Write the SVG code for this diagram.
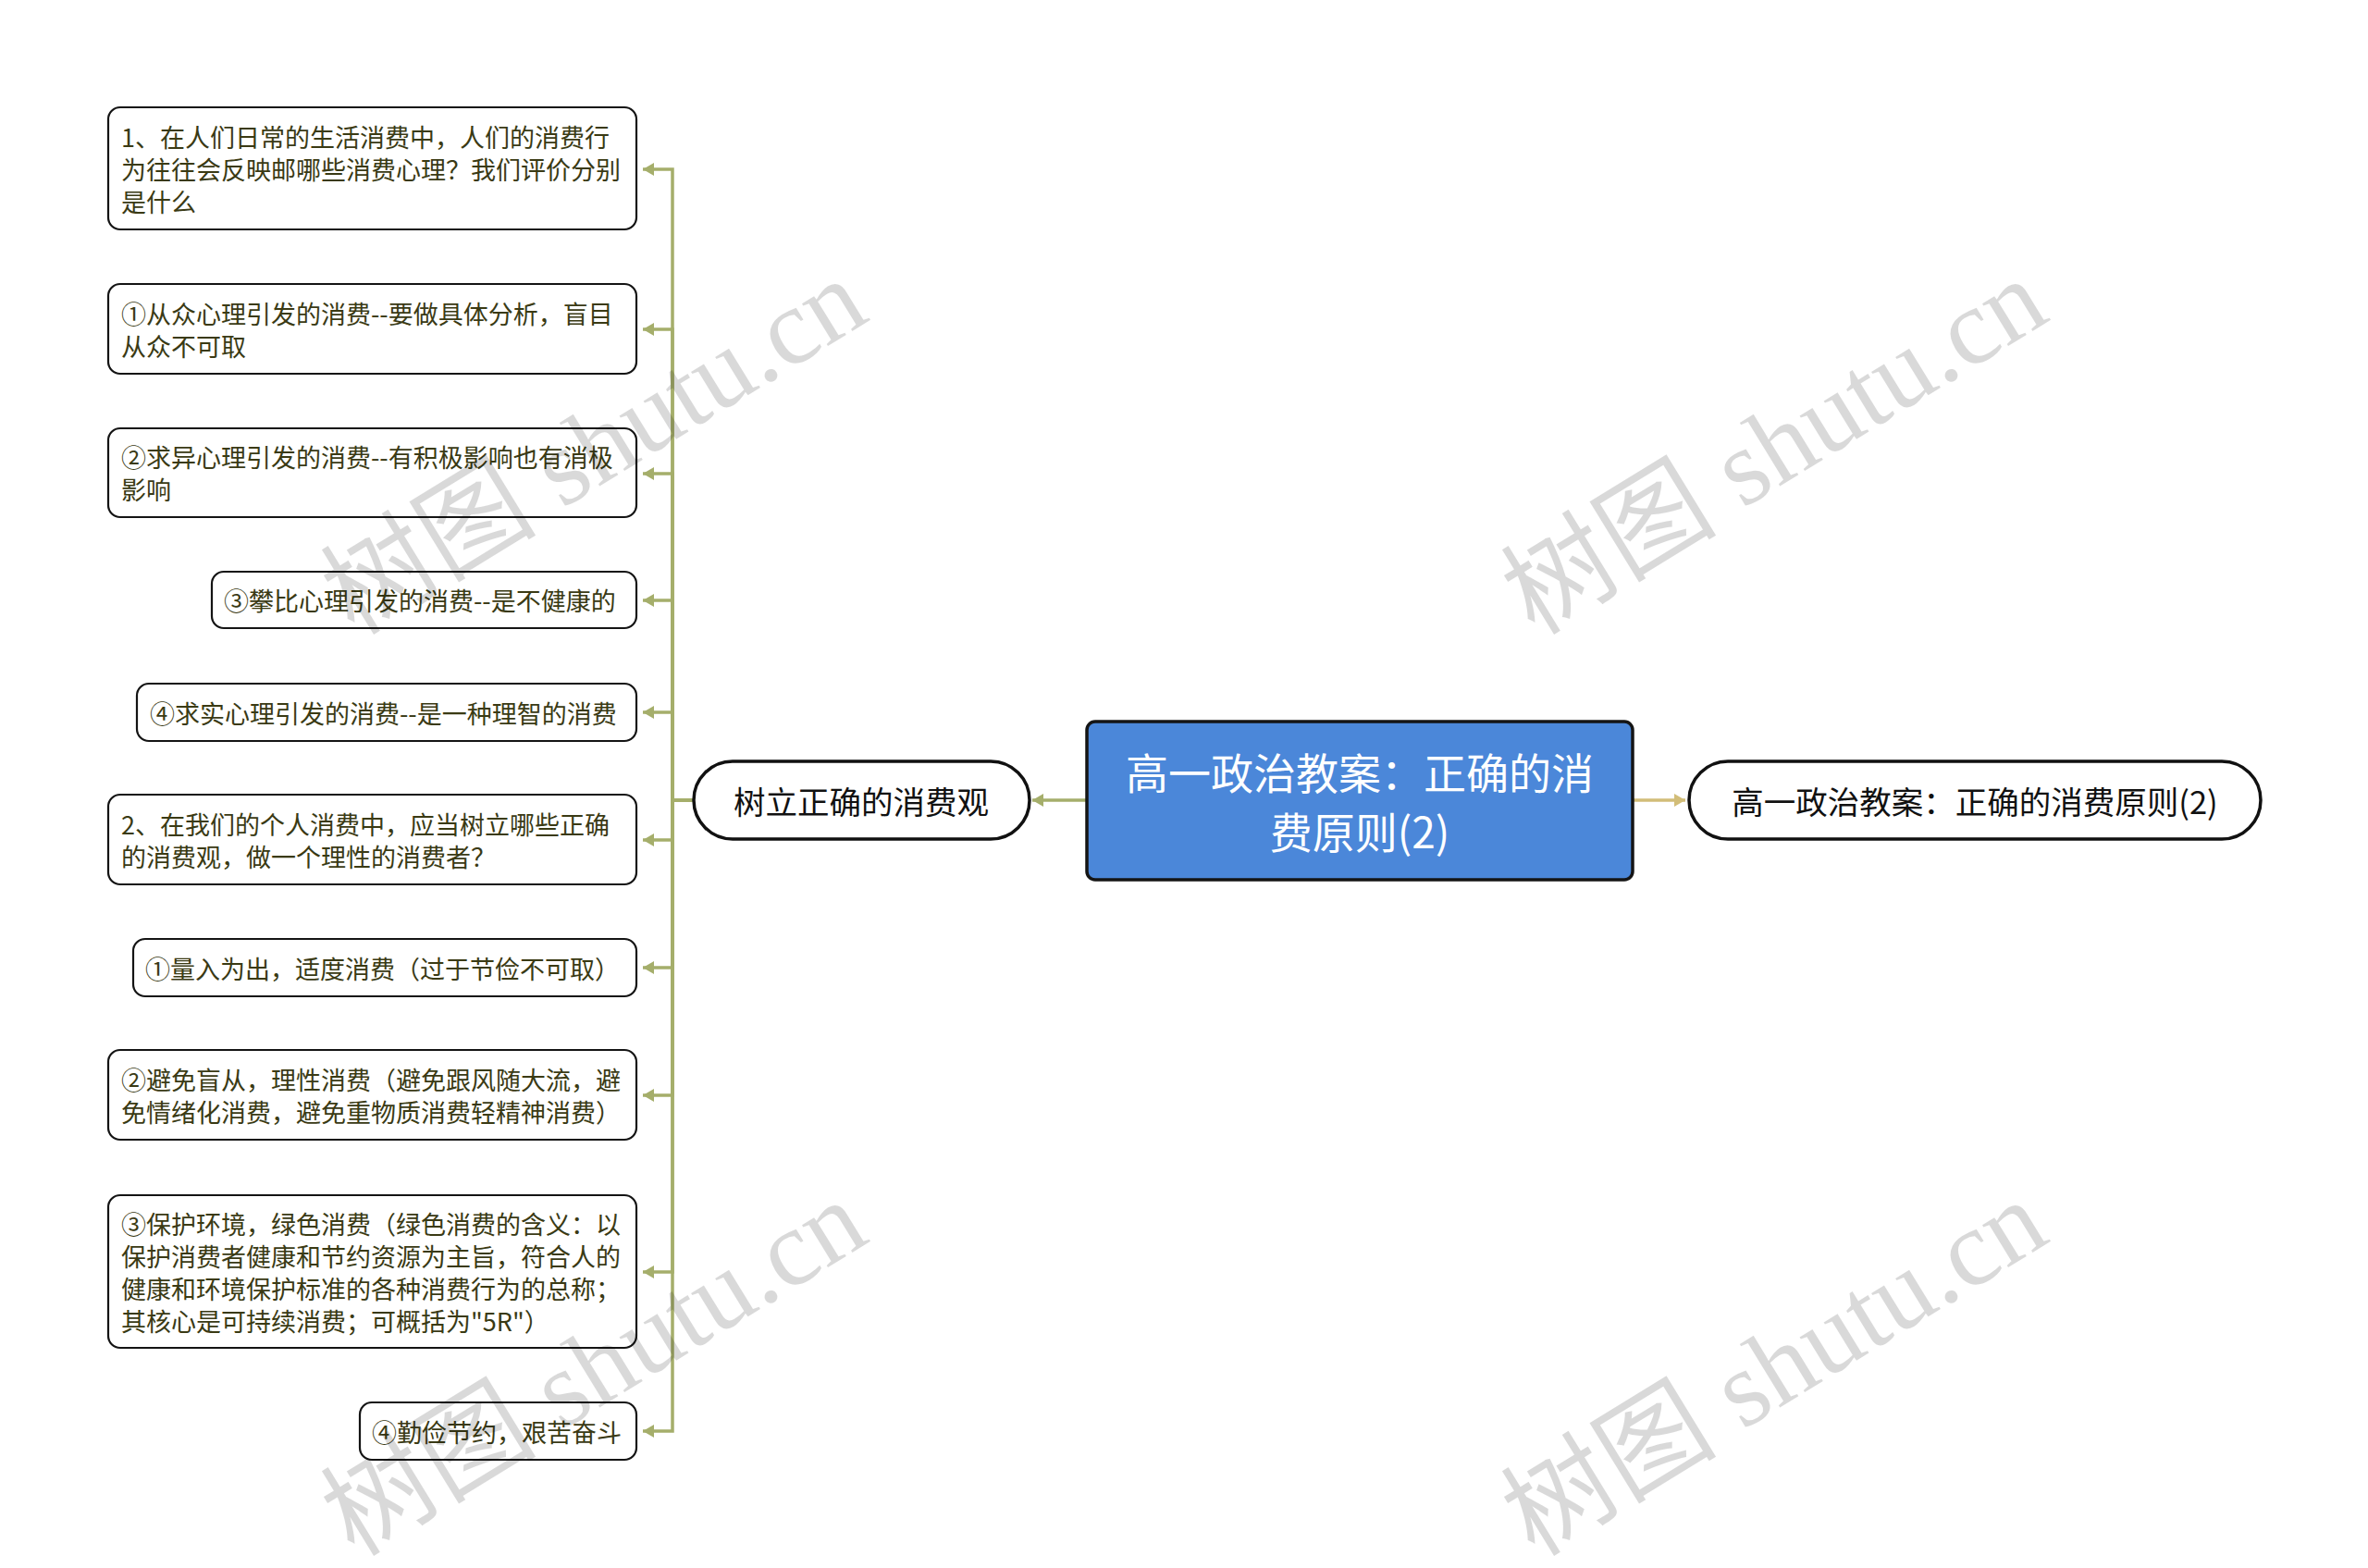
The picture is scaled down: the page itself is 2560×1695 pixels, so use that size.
<svg xmlns="http://www.w3.org/2000/svg" width="2560" height="1695" viewBox="0 0 2560 1695">
<style>
.bx{fill:#ffffff;stroke:#141414;stroke-width:2.2}
.lt{font-family:"Noto Sans CJK SC","Liberation Sans",sans-serif;font-size:27px;fill:#3a3a14;dominant-baseline:central}
.pill{fill:#ffffff;stroke:#111111;stroke-width:3.5}
.pt{font-family:"Noto Sans CJK SC","Liberation Sans",sans-serif;font-size:34.5px;fill:#111111;text-anchor:middle;dominant-baseline:central}
.ct{font-family:"Noto Sans CJK SC","Liberation Sans",sans-serif;font-size:46px;fill:#ffffff;text-anchor:middle;dominant-baseline:central}
.cl{fill:none;stroke:#a5ae6b;stroke-width:3.5}
.cr{fill:none;stroke:#d2bd78;stroke-width:3.5}
.wm{font-family:"Liberation Serif","Noto Sans CJK SC",serif;font-size:117px;fill:#000000;fill-opacity:0.15}
</style>
<defs>
<marker id="ah" markerUnits="userSpaceOnUse" viewBox="0 0 12 14" refX="12" refY="7" markerWidth="12" markerHeight="14" orient="auto">
<path d="M0,0 L12,7 L0,14 z" fill="#a5ae6b"/>
</marker>
<marker id="ahg" markerUnits="userSpaceOnUse" viewBox="0 0 12 14" refX="12" refY="7" markerWidth="12" markerHeight="14" orient="auto">
<path d="M0,0 L12,7 L0,14 z" fill="#d2bd78"/>
</marker>
</defs>
<rect width="2560" height="1695" fill="#ffffff"/>
<g id="connectors">
<path class="cl" d="M1175,865 H1116" marker-end="url(#ah)"/>
<path class="cr" d="M1765,865 H1822" marker-end="url(#ahg)"/>
<path class="cl" d="M750,865 H727 V183 H695" marker-end="url(#ah)"/>
<path class="cl" d="M750,865 H727 V356 H695" marker-end="url(#ah)"/>
<path class="cl" d="M750,865 H727 V512 H695" marker-end="url(#ah)"/>
<path class="cl" d="M750,865 H727 V649 H695" marker-end="url(#ah)"/>
<path class="cl" d="M750,865 H727 V770 H695" marker-end="url(#ah)"/>
<path class="cl" d="M750,865 H727 V908 H695" marker-end="url(#ah)"/>
<path class="cl" d="M750,865 H727 V1046 H695" marker-end="url(#ah)"/>
<path class="cl" d="M750,865 H727 V1184 H695" marker-end="url(#ah)"/>
<path class="cl" d="M750,865 H727 V1375 H695" marker-end="url(#ah)"/>
<path class="cl" d="M750,865 H727 V1547 H695" marker-end="url(#ah)"/>
</g>
<g id="root">
<rect x="1175" y="780" width="590" height="171" rx="9" fill="#4b87d9" stroke="#151515" stroke-width="3.5"/>
<text class="ct" x="1470" y="833">高一政治教案：正确的消</text>
<text class="ct" x="1470" y="897">费原则(2)</text>
</g>
<g id="n-right">
<rect class="pill" x="1826" y="823" width="618" height="84" rx="42"/>
<text class="pt" x="2135" y="865">高一政治教案：正确的消费原则(2)</text>
</g>
<g id="n-main">
<rect class="pill" x="750" y="823" width="363" height="84" rx="42"/>
<text class="pt" x="931" y="865">树立正确的消费观</text>
</g>
<g id="n1">
<rect class="bx" x="117" y="116" width="571" height="132" rx="13"/>
<text class="lt" x="131" y="147">1、在人们日常的生活消费中，人们的消费行</text>
<text class="lt" x="131" y="182">为往往会反映邮哪些消费心理？我们评价分别</text>
<text class="lt" x="131" y="217">是什么</text>
</g>
<g id="n2">
<rect class="bx" x="117" y="307" width="571" height="97" rx="13"/>
<text class="lt" x="131" y="338">①从众心理引发的消费--要做具体分析，盲目</text>
<text class="lt" x="131" y="373">从众不可取</text>
</g>
<g id="n3">
<rect class="bx" x="117" y="463" width="571" height="96" rx="13"/>
<text class="lt" x="131" y="493.5">②求异心理引发的消费--有积极影响也有消极</text>
<text class="lt" x="131" y="528.5">影响</text>
</g>
<g id="n4">
<rect class="bx" x="229" y="618" width="459" height="61" rx="13"/>
<text class="lt" x="242" y="648.5">③攀比心理引发的消费--是不健康的</text>
</g>
<g id="n5">
<rect class="bx" x="148" y="739" width="540" height="62" rx="13"/>
<text class="lt" x="162" y="770">④求实心理引发的消费--是一种理智的消费</text>
</g>
<g id="n6">
<rect class="bx" x="117" y="859" width="571" height="97" rx="13"/>
<text class="lt" x="131" y="890">2、在我们的个人消费中，应当树立哪些正确</text>
<text class="lt" x="131" y="925">的消费观，做一个理性的消费者？</text>
</g>
<g id="n7">
<rect class="bx" x="144" y="1015" width="544" height="62" rx="13"/>
<text class="lt" x="157" y="1046">①量入为出，适度消费（过于节俭不可取）</text>
</g>
<g id="n8">
<rect class="bx" x="117" y="1135" width="571" height="97" rx="13"/>
<text class="lt" x="131" y="1166">②避免盲从，理性消费（避免跟风随大流，避</text>
<text class="lt" x="131" y="1201">免情绪化消费，避免重物质消费轻精神消费）</text>
</g>
<g id="n9">
<rect class="bx" x="117" y="1292" width="571" height="165" rx="13"/>
<text class="lt" x="131" y="1322">③保护环境，绿色消费（绿色消费的含义：以</text>
<text class="lt" x="131" y="1357">保护消费者健康和节约资源为主旨，符合人的</text>
<text class="lt" x="131" y="1392">健康和环境保护标准的各种消费行为的总称；</text>
<text class="lt" x="131" y="1427">其核心是可持续消费；可概括为"5R"）</text>
</g>
<g id="n10">
<rect class="bx" x="389" y="1516" width="299" height="62" rx="13"/>
<text class="lt" x="402" y="1547">④勤俭节约，艰苦奋斗</text>
</g>
<g id="watermarks">
<text class="wm" transform="translate(383,688) rotate(-31.5)">树图 shutu.cn</text>
<text class="wm" transform="translate(1659,688) rotate(-31.5)">树图 shutu.cn</text>
<text class="wm" transform="translate(383,1684) rotate(-31.5)">树图 shutu.cn</text>
<text class="wm" transform="translate(1659,1684) rotate(-31.5)">树图 shutu.cn</text>
</g>
</svg>
